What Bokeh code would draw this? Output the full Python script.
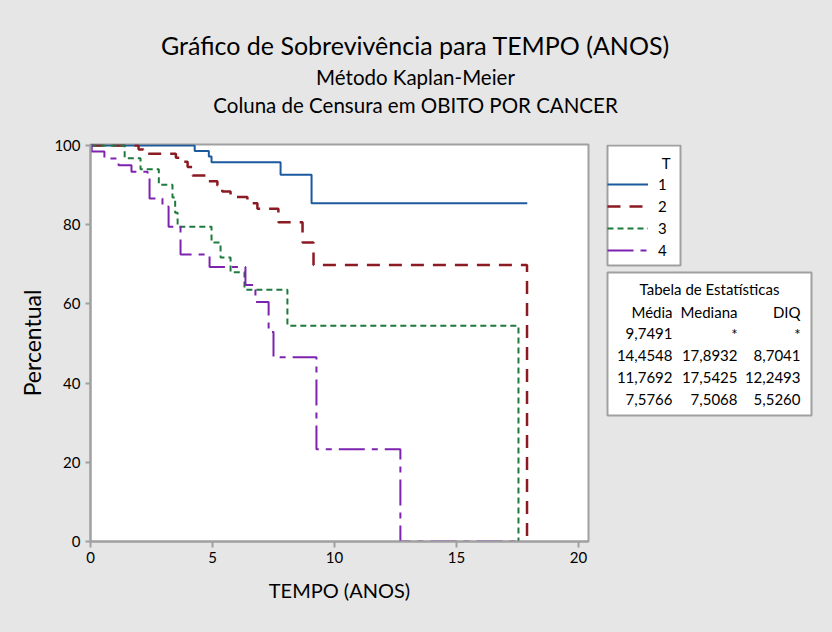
from bokeh.plotting import figure
from bokeh.layouts import column, row
from bokeh.models import Range1d, Legend, LegendItem, FixedTicker
from bokeh.core.properties import value
from bokeh.embed import file_html
from bokeh.resources import INLINE

FONT = "Lato"

# ---- data (Kaplan-Meier step estimates) ----
groups = ["1", "2", "3", "4"]

t1 = [0, 4.27, 4.85, 4.96, 7.79, 9.06, 17.9]
s1 = [100, 98.6, 97.2, 95.8, 92.6, 85.4, 85.4]

t2 = [0, 1.97, 2.17, 3.5, 3.75, 3.98, 4.18, 4.8, 5.2, 5.4, 5.74, 6.43, 6.84, 7.7, 8.69, 9.14, 17.89]
s2 = [100, 99.0, 97.9, 96.9, 95.9, 94.6, 92.4, 91.0, 89.9, 88.4, 87.0, 85.4, 84.0, 80.6, 75.5, 69.8, 0]

t3 = [0, 1.4, 2.05, 2.8, 3.36, 3.47, 3.57, 4.96, 5.33, 5.74, 6.31, 8.07, 17.54]
s3 = [100, 96.8, 94.0, 90.1, 86.9, 83.0, 79.5, 75.5, 71.7, 68.0, 63.6, 54.5, 0]

t4 = [0, 0.05, 0.57, 1.15, 1.68, 2.34, 2.42, 2.95, 3.2, 3.69, 4.88, 6.35, 6.76, 7.3, 7.5, 9.26, 12.7, 17.6]
s4 = [100, 98.5, 96.7, 95.0, 93.4, 92.4, 86.6, 84.6, 79.5, 72.5, 69.3, 64.8, 60.5, 52.9, 46.5, 23.3, 0, 0]

title = "Gráfico de Sobrevivência para TEMPO (ANOS)"
subtitle1 = "Método Kaplan-Meier"
subtitle2 = "Coluna de Censura em OBITO POR CANCER"
x_label = "TEMPO (ANOS)"
y_label = "Percentual"
x_ticks = [0, 5, 10, 15, 20]
y_ticks = [0, 20, 40, 60, 80, 100]
legend_title = "T"

table_title = "Tabela de Estatísticas"
table_cols = ["Média", "Mediana", "DIQ"]
media = ["9,7491", "14,4548", "11,7692", "7,5766"]
mediana = ["*", "17,8932", "17,5425", "7,5068"]
diq = ["*", "8,7041", "12,2493", "5,5260"]

# ---- styles ----
colors = ["#1B5A9E", "#8B1A22", "#1E7A3C", "#7E22B0"]
dashes = ["solid", "13 9", "6 4", "26 7 6 7"]
widths = [2, 2.5, 2, 2]
BG = "#E6E6E6"
GREY = "#A0A0A0"

W, H = 832, 632
TOP_H = 120                 # height of the title strip
FL, FR, FT, FB = 90, 588, 144, 541   # frame in page pixels
PXX = 24.4
PXY = 3.96
MAIN_W = FR + 2
SIDE_W = W - MAIN_W
BODY_H = H - TOP_H
series = [(t1, s1), (t2, s2), (t3, s3), (t4, s4)]


# ---- title strip (coordinates = page pixels, y downward) ----
top = figure(width=W, height=TOP_H, x_range=Range1d(0, W), y_range=Range1d(TOP_H, 0),
             x_axis_type=None, y_axis_type=None, min_border=0,
             output_backend="svg", toolbar_location=None,
             background_fill_color=BG, border_fill_color=BG, outline_line_color=None)
top.grid.visible = False
top.text(x=[415], y=[44], text=[title], text_font=value(FONT), text_font_size="25px",
         text_align="center", text_baseline="middle", text_color="black")
top.text(x=[415, 415], y=[76, 104], text=[subtitle1, subtitle2], text_font=value(FONT),
         text_font_size="20.5px", text_align="center", text_baseline="middle", text_color="black")

# ---- main plot ----
p = figure(width=MAIN_W, height=BODY_H,
           x_range=Range1d(0, (FR - FL) / PXX), y_range=Range1d(0, (FB - FT) / PXY),
           min_border_left=FL, min_border_right=MAIN_W - FR,
           min_border_top=FT - TOP_H, min_border_bottom=H - FB,
           output_backend="svg", toolbar_location=None,
           background_fill_color="white", border_fill_color=BG,
           outline_line_color=GREY, outline_line_width=2)
p.grid.visible = False

for (t, s), c, d, w in zip(series, colors, dashes, widths):
    p.step(x=t, y=s, mode="after", line_color=c, line_dash=d, line_width=w)

for ax in (p.xaxis[0], p.yaxis[0]):
    ax.axis_line_color = GREY
    ax.axis_line_width = 2
    ax.major_tick_line_color = GREY
    ax.major_tick_line_width = 2
    ax.minor_tick_line_color = None
    ax.major_tick_in = 0
    ax.major_label_text_font = FONT
    ax.major_label_text_font_size = "15px"
    ax.major_label_text_color = "black"
    ax.axis_label_text_font = FONT
    ax.axis_label_text_font_style = "normal"
    ax.axis_label_text_color = "black"

p.xaxis.axis_label_text_font_size = "20px"
p.yaxis.axis_label_text_font_size = "23px"
p.xaxis.ticker = FixedTicker(ticks=x_ticks)
p.yaxis.ticker = FixedTicker(ticks=y_ticks)
p.xaxis.major_tick_out = 6
p.yaxis.major_tick_out = 5
p.xaxis.major_label_standoff = 4
p.yaxis.major_label_standoff = 5
p.xaxis.axis_label = x_label
p.yaxis.axis_label = y_label
p.xaxis.axis_label_standoff = 12
p.yaxis.axis_label_standoff = 5

# ---- side panel: legend and statistics table (page pixel coordinates) ----
# its frame is aligned with the main frame (page y 144..541)
side = figure(width=SIDE_W, height=BODY_H, x_range=Range1d(MAIN_W, W), y_range=Range1d(FB, FT),
              x_axis_type=None, y_axis_type=None,
              min_border_left=0, min_border_right=0,
              min_border_top=FT - TOP_H, min_border_bottom=H - FB,
              output_backend="svg", toolbar_location=None,
              background_fill_color=BG, border_fill_color=BG, outline_line_color=None)
side.grid.visible = False

# boxes
side.quad(left=[607, 607], right=[680, 811], top=[145, 272], bottom=[265, 415],
          fill_color="white", line_color=GREY, line_width=2)

# legend: renderers with the same series and styles (their data lie outside this panel's range)
legend_renderers = []
for (t, s), c, d, w in zip(series, colors, dashes, widths):
    legend_renderers.append(side.step(x=t, y=s, mode="after", line_color=c, line_dash=d,
                                      line_width=w))
items = [LegendItem(label=g, renderers=[r]) for g, r in zip(groups, legend_renderers)]
legend = Legend(items=items, location=(607 - MAIN_W, FB - 265 + 6), title=" ",
                title_text_font=FONT, title_text_font_size="15px", title_standoff=4,
                label_text_font=FONT, label_text_font_size="15px", label_text_color="black",
                glyph_width=41, glyph_height=18, label_height=18, label_width=12,
                spacing=4, padding=5, margin=0, label_standoff=10,
                border_line_color=None, background_fill_alpha=0)
side.add_layout(legend, "center")
side.text(x=[670], y=[162], text=[legend_title], text_font=value(FONT), text_font_size="15px",
          text_align="right", text_baseline="middle", text_color="black")

# table
side.text(x=[709], y=[288], text=[table_title], text_font=value(FONT), text_font_size="15px",
          text_align="center", text_baseline="middle", text_color="black")
col_right = [672, 737, 800]
row_y = [311, 333, 355, 377, 399]
for ci, (hdr, colvals) in enumerate(zip(table_cols, [media, mediana, diq])):
    side.text(x=[col_right[ci]] * 5, y=row_y, text=[hdr] + colvals, text_font=value(FONT),
              text_font_size="15px", text_align="right", text_baseline="middle",
              text_color="black")

layout = column(top, row(p, side, spacing=0, styles={"background-color": BG}),
                spacing=0, styles={"background-color": BG})
open("out.html", "w").write(file_html(layout, INLINE))
